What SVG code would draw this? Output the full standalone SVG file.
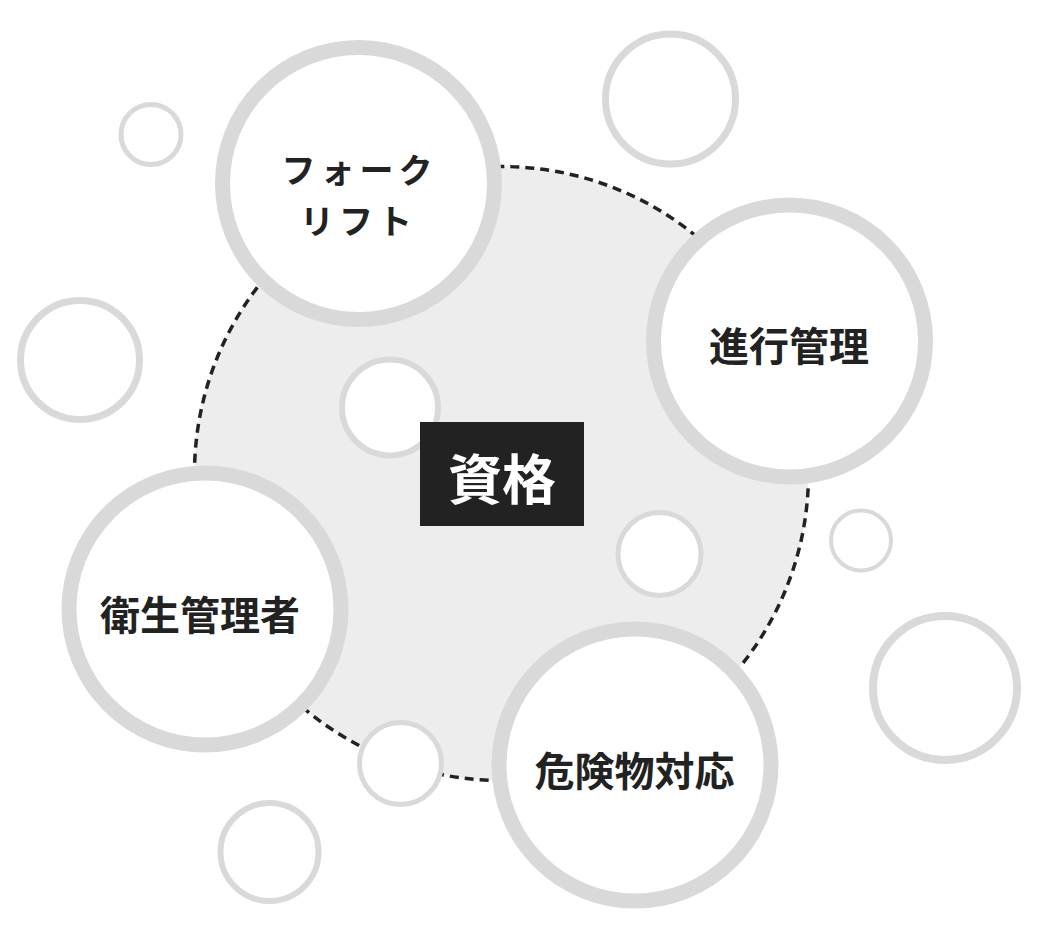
<svg xmlns="http://www.w3.org/2000/svg" width="1042" height="951" viewBox="0 0 1042 951">
<style>
.ring{fill:#ffffff;stroke:#d9d9d9}
.big{stroke-width:15}
.lbl{font-family:"Noto Sans CJK JP","Noto Sans CJK SC",sans-serif;font-weight:700;fill:#222222;text-anchor:middle;dominant-baseline:central}
</style>
<rect width="1042" height="951" fill="#ffffff"/>
<g id="connectors">
<circle id="hub-area" cx="501.5" cy="473.5" r="307" fill="#ededed" stroke="#222222" stroke-width="3.5" stroke-dasharray="9 6"/>
</g>
<g id="bubbles">
<circle class="ring" cx="151" cy="134.5" r="30" stroke-width="5"/>
<circle class="ring" cx="670.5" cy="99" r="65" stroke-width="7"/>
<circle class="ring" cx="80" cy="360" r="59.5" stroke-width="7"/>
<circle class="ring" cx="945" cy="688" r="72" stroke-width="8"/>
<circle class="ring" cx="269.5" cy="852" r="49" stroke-width="6"/>
<circle class="ring" cx="861" cy="540.5" r="30" stroke-width="4"/>
<circle class="ring" cx="390" cy="407.5" r="48" stroke-width="6"/>
<circle class="ring" cx="659.5" cy="554" r="41.5" stroke-width="5"/>
<circle class="ring" cx="400.5" cy="763.5" r="41" stroke-width="5"/>
</g>
<g id="center">
<rect x="420" y="422" width="164" height="104" fill="#222222"/>
<text class="lbl" x="502" y="476" font-size="54" style="fill:#ffffff">資格</text>
</g>
<g id="node-forklift">
<circle class="ring big" cx="358.5" cy="183.5" r="136"/>
<text class="lbl" x="359.5" y="168.5" font-size="34" letter-spacing="5">フォーク</text>
<text class="lbl" x="358.5" y="219" font-size="34" letter-spacing="5">リフト</text>
</g>
<g id="node-progress">
<circle class="ring big" cx="789.5" cy="341" r="136"/>
<text class="lbl" x="789" y="344" font-size="40">進行管理</text>
</g>
<g id="node-hygiene">
<circle class="ring big" cx="205" cy="609" r="136"/>
<text class="lbl" x="200" y="613" font-size="40">衛生管理者</text>
</g>
<g id="node-hazmat">
<circle class="ring big" cx="635" cy="765" r="136"/>
<text class="lbl" x="634.5" y="769" font-size="40">危険物対応</text>
</g>
</svg>
